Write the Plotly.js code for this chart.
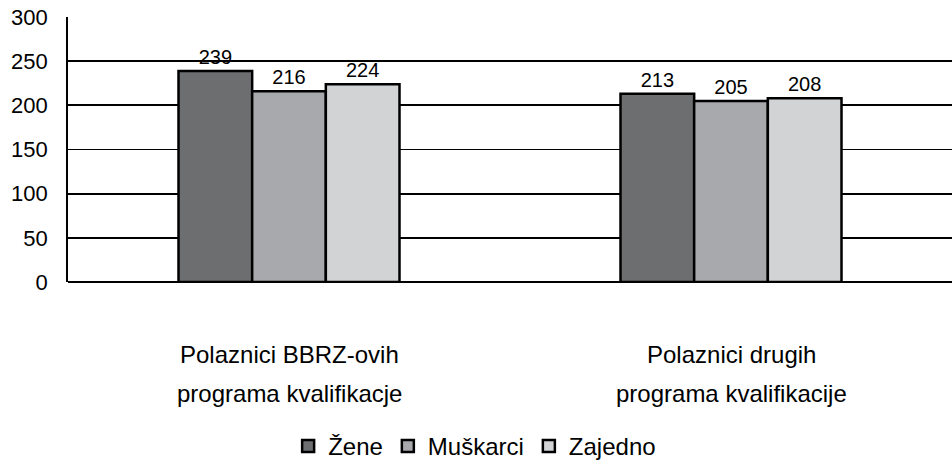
<!DOCTYPE html>
<html>
<head>
<meta charset="utf-8">
<script src="https://cdn.plot.ly/plotly-3.0.1.min.js"></script>
<style>html,body{margin:0;padding:0;background:#fff;}#chart{width:952px;height:470px;}</style>
</head>
<body>
<div id="chart"></div>
<script>
const categories = ["BBRZ", "drugi"];
const categoryLine1 = ["Polaznici BBRZ-ovih", "Polaznici drugih"];
const categoryLine2 = ["programa kvalifikacje", "programa kvalifikacije"];
const seriesNames = ["Žene", "Muškarci", "Zajedno"];
const zene = [239, 213];
const muskarci = [216, 205];
const zajedno = [224, 208];
const colors = ["#6d6e70", "#a7a9ac", "#d1d3d4"];
const yTicks = [0, 50, 100, 150, 200, 250, 300];

const FONT = "Liberation Sans, Arial, Helvetica, sans-serif";
const values = [zene, muskarci, zajedno];

const traces = seriesNames.map((name, i) => ({
  type: "bar",
  name: name,
  x: categories,
  y: values[i],
  text: values[i].map(String),
  textposition: "outside",
  constraintext: "none",
  cliponaxis: false,
  textfont: {family: FONT, size: 20, color: "#000"},
  marker: {color: colors[i], line: {color: "#000", width: 2.5}},
  hoverinfo: "none"
}));

const annotations = [];
categories.forEach((c, i) => {
  annotations.push({xref: "x", yref: "paper", x: c, y: -0.275, text: categoryLine1[i],
    showarrow: false, yanchor: "middle", font: {family: FONT, size: 24, color: "#000"}});
  annotations.push({xref: "x", yref: "paper", x: c, y: -0.42, text: categoryLine2[i],
    showarrow: false, yanchor: "middle", font: {family: FONT, size: 24, color: "#000"}});
});

const layout = {
  width: 952, height: 470,
  margin: {l: 68, r: 0, t: 17, b: 188},
  paper_bgcolor: "#fff", plot_bgcolor: "#fff",
  barmode: "group", bargap: 0.5, bargroupgap: 0,
  font: {family: FONT, color: "#000"},
  xaxis: {showticklabels: false, showgrid: false, zeroline: false, showline: false, ticks: "", fixedrange: true},
  yaxis: {range: [0, 300], tickvals: yTicks, ticktext: yTicks.map(String),
    showgrid: true, gridcolor: "#000", gridwidth: 1.8,
    zeroline: true, zerolinecolor: "#000", zerolinewidth: 1.8,
    showline: true, linecolor: "#000", linewidth: 1.8,
    ticks: "", ticklabelstandoff: 14,
    tickfont: {family: FONT, size: 22, color: "#000"}, fixedrange: true},
  showlegend: true,
  legend: {orientation: "h", x: 0.46, xanchor: "center", y: -0.62, yanchor: "middle",
    font: {family: FONT, size: 24, color: "#000"}, itemwidth: 30, tracegroupgap: 0},
  annotations: annotations
};

Plotly.newPlot("chart", traces, layout, {displayModeBar: false, staticPlot: true});
</script>
</body>
</html>
